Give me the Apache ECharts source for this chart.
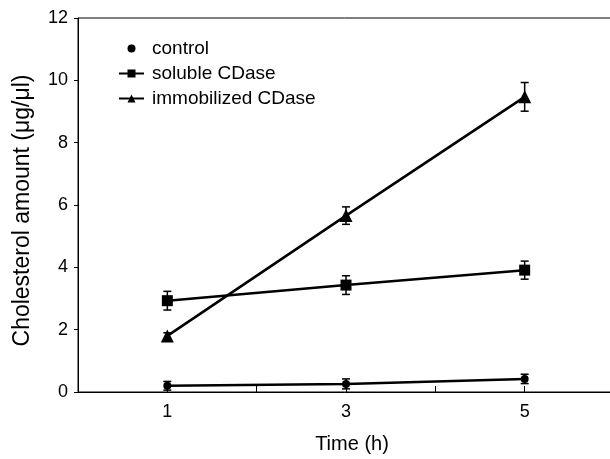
<!DOCTYPE html>
<html>
<head>
<meta charset="utf-8">
<script src="https://cdn.jsdelivr.net/npm/echarts@6/dist/echarts.min.js"></script>
<style>
  html, body { margin: 0; padding: 0; background: #fff; }
  #chart { width: 610px; height: 459px; }
</style>
</head>
<body>
<div id="chart"></div>
<script>
// data
const timeH = [1, 3, 5]
const xTickLabels = [1, 3, 5]
const seriesNames = ['control', 'soluble CDase', 'immobilized CDase']
const control = [0.20, 0.26, 0.42]
const controlErr = [0.14, 0.16, 0.15]
const soluble = [2.93, 3.43, 3.91]
const solubleErr = [0.30, 0.30, 0.29]
const immobilized = [1.80, 5.66, 9.47]
const immobilizedErr = [0.10, 0.28, 0.46]

const font = 'Liberation Sans, Arial, Helvetica, sans-serif'

function pairs (ys) {
  return ys.map((y, i) => [timeH[i], y])
}

function errRows (ys, errs) {
  return ys.map((y, i) => [timeH[i], y - errs[i], y + errs[i]])
}

// vertical error bar with caps, drawn via the axis scales
function renderErr (params, api) {
  const x = api.value(0)
  const lo = api.coord([x, api.value(1)])
  const hi = api.coord([x, api.value(2)])
  const w = 4
  const style = { stroke: '#000', lineWidth: 1.5 }
  return {
    type: 'group',
    children: [
      { type: 'line', shape: { x1: lo[0], y1: lo[1], x2: hi[0], y2: hi[1] }, style },
      { type: 'line', shape: { x1: lo[0] - w, y1: lo[1], x2: lo[0] + w, y2: lo[1] }, style },
      { type: 'line', shape: { x1: hi[0] - w, y1: hi[1], x2: hi[0] + w, y2: hi[1] }, style }
    ]
  }
}

function lineSeries (name, ys, symbol, size) {
  return {
    name: name,
    type: 'line',
    data: pairs(ys),
    symbol: symbol,
    symbolSize: size,
    showAllSymbol: true,
    lineStyle: { color: '#000', width: 2.5 },
    itemStyle: { color: '#000' },
    z: 3
  }
}

function errSeries (ys, errs) {
  return {
    type: 'custom',
    data: errRows(ys, errs),
    renderItem: renderErr,
    silent: true,
    z: 2
  }
}

const chart = echarts.init(document.getElementById('chart'))
const option = {
  animation: false,
  backgroundColor: '#fff',
  textStyle: { fontFamily: font, color: '#000' },
  grid: {
    left: 78,
    width: 536,
    top: 18,
    bottom: 67,
    outerBoundsMode: 'none',
    containLabel: false,
    show: true,
    borderColor: '#000',
    borderWidth: 1
  },
  legend: {
    orient: 'vertical',
    left: 113,
    top: 34,
    itemWidth: 25,
    itemHeight: 10,
    itemGap: 6,
    textStyle: { fontFamily: font, fontSize: 19, color: '#000', lineHeight: 19, padding: [0, 0, 0, 3] },
    data: [
      { name: seriesNames[0], lineStyle: { opacity: 0 } },
      { name: seriesNames[1] },
      { name: seriesNames[2] }
    ]
  },
  xAxis: {
    type: 'value',
    min: 0,
    max: 6,
    interval: 1,
    name: 'Time (h)',
    nameLocation: 'middle',
    nameGap: 42,
    nameTextStyle: { fontFamily: font, fontSize: 20, color: '#000', padding: [0, 0, 0, 12] },
    axisLine: { onZero: false, lineStyle: { color: '#000', width: 1 } },
    axisTick: { inside: true, length: 6, lineStyle: { color: '#000' } },
    axisLabel: {
      margin: 11,
      fontFamily: font,
      fontSize: 18,
      color: '#000',
      formatter: v => (xTickLabels.includes(v) ? String(v) : '')
    },
    splitLine: { show: false }
  },
  yAxis: {
    type: 'value',
    min: 0,
    max: 12,
    interval: 2,
    name: 'Cholesterol amount (μg/μl)',
    nameLocation: 'middle',
    nameGap: 44,
    nameTextStyle: { fontFamily: font, fontSize: 23, color: '#000', padding: [0, 11, 0, 0] },
    axisLine: { show: true, lineStyle: { color: '#000', width: 1 } },
    axisTick: { show: true, inside: false, length: 4, lineStyle: { color: '#000' } },
    axisLabel: { margin: 10, fontFamily: font, fontSize: 18, color: '#000' },
    splitLine: { show: false }
  },
  series: [
    lineSeries(seriesNames[0], control, 'circle', 8),
    lineSeries(seriesNames[1], soluble, 'rect', 11),
    lineSeries(seriesNames[2], immobilized, 'triangle', 13),
    errSeries(control, controlErr),
    errSeries(soluble, solubleErr),
    errSeries(immobilized, immobilizedErr)
  ]
}
chart.setOption(option)
</script>
</body>
</html>
